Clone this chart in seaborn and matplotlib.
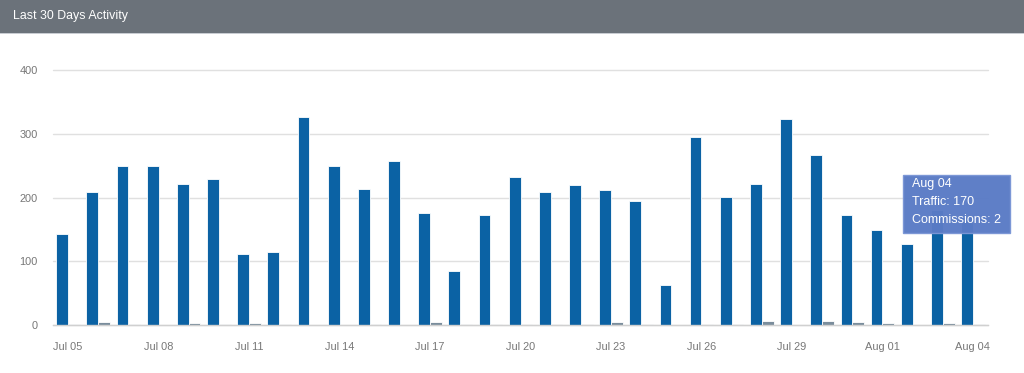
import matplotlib
matplotlib.use("Agg")
import matplotlib.pyplot as plt
from matplotlib.patches import Rectangle
import seaborn as sns
import pandas as pd

dates = ["Jul 05", "Jul 06", "Jul 07", "Jul 08", "Jul 09", "Jul 10", "Jul 11", "Jul 12",
         "Jul 13", "Jul 14", "Jul 15", "Jul 16", "Jul 17", "Jul 18", "Jul 19", "Jul 20",
         "Jul 21", "Jul 22", "Jul 23", "Jul 24", "Jul 25", "Jul 26", "Jul 27", "Jul 28",
         "Jul 29", "Jul 30", "Jul 31", "Aug 01", "Aug 02", "Aug 03", "Aug 04"]
traffic = [142, 209, 250, 249, 221, 229, 111, 114, 326, 249, 214, 257, 175, 85, 172, 232,
           208, 220, 212, 195, 63, 295, 201, 221, 323, 267, 173, 149, 127, 180, 170]
commissions = [1, 5, 2, 0, 3, 2, 3, 1, 0, 0, 1, 0, 4, 2, 1, 2,
               2, 1, 5, 1, 0, 2, 1, 6, 0, 6, 4, 3, 0, 3, 2]
yticks = [0, 100, 200, 300, 400]

df = pd.DataFrame({
    "date": dates * 2,
    "value": traffic + commissions,
    "series": ["Traffic"] * len(dates) + ["Commissions"] * len(dates),
})

sns.set_theme(style="white")
plt.rcParams["font.family"] = ["Liberation Sans", "DejaVu Sans"]

fig = plt.figure(figsize=(10.24, 3.73), dpi=100)
W, H = 1024, 373
ax = fig.add_axes([53 / W, 1 - 325 / H, (988 - 53) / W, (325 - 70) / H])

sns.barplot(data=df, x="date", y="value", hue="series", order=dates,
            hue_order=["Traffic", "Commissions"],
            palette={"Traffic": "#0b62a4", "Commissions": "#7a8d9c"},
            saturation=1, width=0.78, edgecolor="white", linewidth=0.6,
            legend=False, ax=ax)

ax.set_xlim(-0.5, len(dates) - 0.5)
ax.set_ylim(0, 400)
ax.set_yticks(yticks)
ax.set_yticklabels([str(v) for v in yticks])
ax.set_xticks(range(0, len(dates), 3))
ax.set_xticklabels(dates[::3])
ax.set_xlabel("")
ax.set_ylabel("")
ax.yaxis.grid(True, color="#e0e0e0", linewidth=1)
ax.set_axisbelow(True)
for gl in ax.get_ygridlines():
    gl.set_clip_on(False)
for s in ["top", "right", "left"]:
    ax.spines[s].set_visible(False)
ax.spines["bottom"].set_color("#d0d0d0")
ax.spines["bottom"].set_linewidth(1)
ax.tick_params(axis="both", length=0, labelsize=7.9, colors="#777777")
ax.tick_params(axis="y", pad=11)
ax.tick_params(axis="x", pad=12)

# header bar
fig.patches.append(Rectangle((0, 1 - 33 / H), 1, 33 / H, transform=fig.transFigure,
                             facecolor="#6b727a", edgecolor="none", zorder=0))
fig.patches.append(Rectangle((0, 1 - 34 / H), 1, 1.2 / H, transform=fig.transFigure,
                             facecolor="#c8ccd2", edgecolor="none", zorder=0))
fig.text(13 / W, 1 - 16 / H, "Last 30 Days Activity", color="white", fontsize=8.9,
         ha="left", va="center")

# tooltip
tx0, ty0, tw, th = 903, 175, 107, 58
fig.patches.append(Rectangle((tx0 / W, 1 - (ty0 + th) / H), tw / W, th / H,
                             transform=fig.transFigure, facecolor="#5a7bc6",
                             edgecolor="#7b96d6", linewidth=1, alpha=0.97, zorder=5))
for i, line in enumerate(["Aug 04", "Traffic: 170", "Commissions: 2"]):
    fig.text(912 / W, 1 - (184 + 18 * i) / H, line, color="white", fontsize=9,
             ha="left", va="center", zorder=6)

fig.savefig("out.png", dpi=100, facecolor="white")
